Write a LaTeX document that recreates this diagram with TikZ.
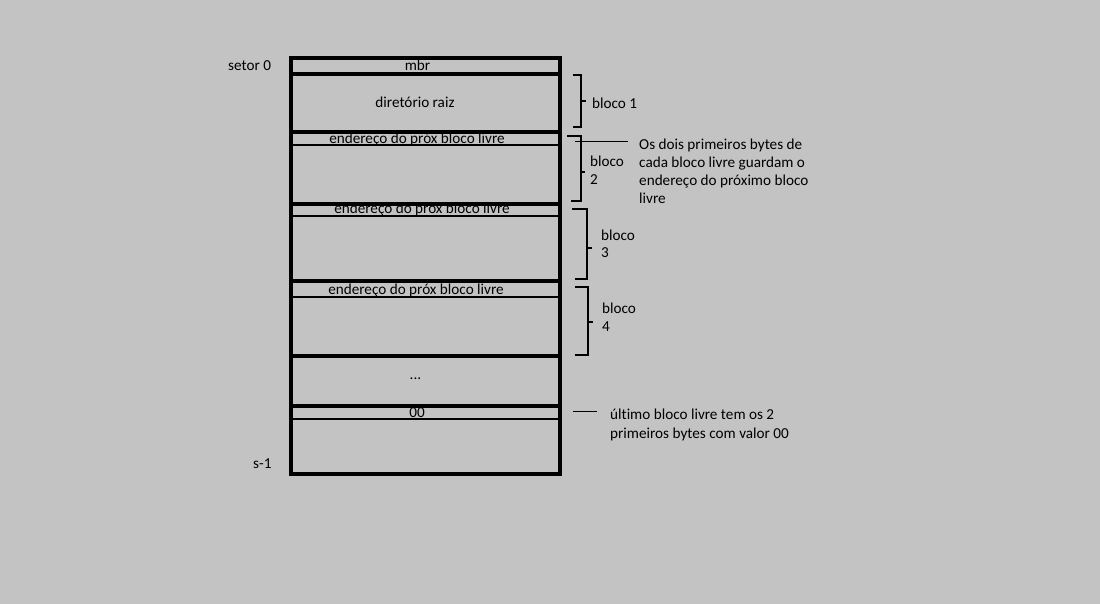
\documentclass[tikz,border=0pt]{standalone}
\usepackage{fontspec}
\setmainfont{Carlito}[Ligatures=NoCommon]
\definecolor{bg}{HTML}{C3C3C3}
\begin{document}
\begin{tikzpicture}[x=1pt,y=-1pt,
  txt/.style={font=\fontsize{15.2}{18}\selectfont, inner sep=0pt, text=black, anchor=base},
  ltxt/.style={txt, anchor=base west},
  heavy/.style={line width=4pt, line cap=rect},
  mid/.style={line width=3.5pt},
  fine/.style={line width=1.2pt},
  brk/.style={line width=1.3pt}]
\fill[bg] (0,0) rectangle (1100,604);
\useasboundingbox (0,0) rectangle (1100,604);
% disk layout
\draw[heavy] (291,58) rectangle (560,474);
\foreach \y in {74,132,204,281,356,406} \draw[mid] (291,\y) -- (560,\y);
\foreach \y in {145,216,297,419} \draw[fine] (291,\y) -- (560,\y);
% texts inside
\node[txt] (mbr) at (417.5,70.5) {mbr};
\node[txt] (raiz) at (415,107.5) {diretório raiz};
\node[txt] (e1) at (417,143.5) {endereço do próx bloco livre};
\node[txt] (e2) at (422,214) {endereço do próx bloco livre};
\node[txt] (e3) at (416,294.5) {endereço do próx bloco livre};
\node[txt] (dots) at (415.5,379) {...};
\node[txt] (zz) at (417,417) {00};
\node[ltxt] (s0) at (228,71) {setor 0};
\node[ltxt] (s1) at (253,468.5) {s-1};
% brackets
\draw[brk] (573,75) -- (581,75) -- (581,127) -- (573,127);
\draw[brk] (581,101) -- (586,101);
\node[ltxt] (b1) at (592,108.5) {bloco 1};
\draw[brk] (567,136) -- (581,136) -- (581,201) -- (571,201);
\draw[brk] (581,172) -- (585,172);
\node[ltxt] (b2a) at (590,166.5) {bloco};
\node[ltxt] (b2b) at (590,185) {2};
\draw[brk] (572,209) -- (587,209) -- (587,279) -- (575,279);
\draw[brk] (587,248) -- (592,248);
\node[ltxt] (b3a) at (601,240.5) {bloco};
\node[ltxt] (b3b) at (601,258) {3};
\draw[brk] (575,287) -- (588,287) -- (588,355) -- (575,355);
\draw[brk] (588,322) -- (593,322);
\node[ltxt] (b4a) at (602,313) {bloco};
\node[ltxt] (b4b) at (602,331) {4};
% annotations
\node[ltxt] (n1) at (639,149.5) {Os dois primeiros bytes de};
\node[ltxt] (n2) at (639,167.5) {cada bloco livre guardam o};
\node[ltxt] (n3) at (639,185.5) {endereço do próximo bloco};
\node[ltxt] (n4) at (639,203.5) {livre};
\coordinate (a1s) at (575,141.5);
\coordinate (a1e) at (628,141.5);
\draw[brk] (a1s) -- (a1e);
\node[ltxt] (m1) at (610,419.5) {último bloco livre tem os 2};
\node[ltxt] (m2) at (610,438.5) {primeiros bytes com valor 00};
\coordinate (a2s) at (573,411.5);
\coordinate (a2e) at (597,411.5);
\draw[brk] (a2s) -- (a2e);
\end{tikzpicture}
\end{document}
